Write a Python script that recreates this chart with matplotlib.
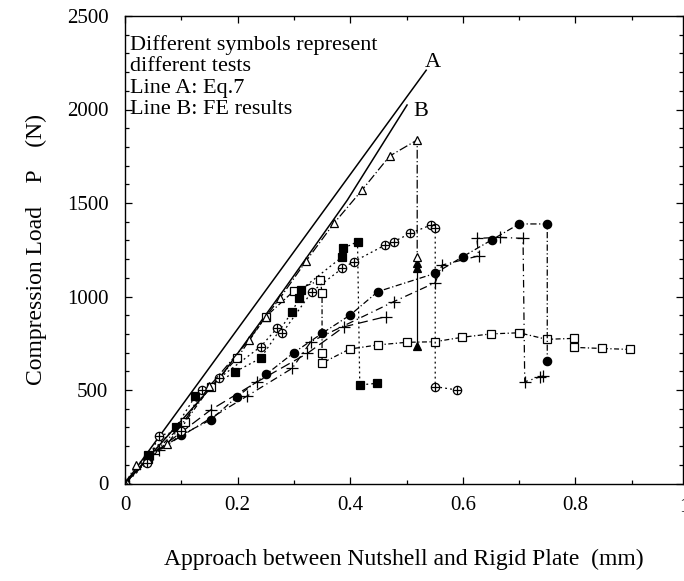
"""Compression load vs approach between nutshell and rigid plate.

Lines A (Eq.7) and B (FE results) plus the individual test curves,
one marker style per test. Saves out.png
"""
import matplotlib
matplotlib.use("Agg")
import matplotlib.pyplot as plt
from matplotlib.ticker import MultipleLocator
from matplotlib.transforms import blended_transform_factory

# line A: Eq.7, line B: FE results
line_a_x = [0.0, 0.535]
line_a_y = [0, 2210]
line_b_x = [0.0, 0.17, 0.282, 0.395, 0.501]
line_b_y = [0, 571, 1035, 1516, 2024]

# open triangles
tri_open_x = [0, 0.02, 0.075, 0.15, 0.22, 0.25, 0.275, 0.322, 0.371, 0.421, 0.47, 0.519, 0.519]
tri_open_y = [0, 100, 210, 520, 767, 892, 990, 1191, 1391, 1569, 1751, 1837, 1210]

# filled triangles (only the post-failure part is visible)
tri_fill_x = [0.519, 0.519, 0.519]
tri_fill_y = [1180, 1150, 735]

# circled plus
oplus_x = [0, 0.039, 0.06, 0.099, 0.137, 0.167, 0.241, 0.27, 0.279, 0.332, 0.386,
           0.406, 0.462, 0.477, 0.507, 0.543, 0.551, 0.551, 0.59]
oplus_y = [0, 108, 256, 283, 500, 563, 732, 830, 803, 1026, 1151,
           1186, 1275, 1293, 1338, 1382, 1365, 518, 500]

# filled squares
sq_fill_x = [0, 0.04, 0.09, 0.125, 0.196, 0.241, 0.297, 0.309, 0.312, 0.385, 0.388, 0.413, 0.417, 0.448]
sq_fill_y = [0, 150, 300, 468, 598, 670, 919, 990, 1035, 1210, 1258, 1293, 527, 536]

# filled circles
circ_x = [0, 0.04, 0.099, 0.152, 0.199, 0.251, 0.30, 0.35, 0.40, 0.449, 0.551,
          0.60, 0.651, 0.70, 0.75, 0.75]
circ_y = [0, 130, 259, 340, 464, 584, 700, 803, 901, 1026, 1124,
          1213, 1302, 1388, 1388, 657]

# plus signs, two tests
plus1_x = [0, 0.05, 0.152, 0.235, 0.324, 0.389, 0.463]
plus1_y = [0, 160, 393, 544, 696, 838, 892]
plus2_x = [0, 0.06, 0.217, 0.297, 0.33, 0.477, 0.551, 0.563, 0.628, 0.625,
           0.666, 0.707, 0.71, 0.738, 0.743]
plus2_y = [0, 180, 468, 616, 758, 972, 1074, 1168, 1217, 1311,
           1316, 1311, 544, 571, 575]

# open squares
sq_open_x = [0, 0.04, 0.107, 0.152, 0.199, 0.25, 0.30, 0.347, 0.35, 0.35, 0.35,
             0.399, 0.449, 0.50, 0.55, 0.599, 0.65, 0.70, 0.749, 0.797, 0.797, 0.848, 0.897]
sq_open_y = [0, 130, 330, 518, 670, 892, 1030, 1088, 1017, 697, 644,
             719, 741, 755, 758, 782, 800, 806, 771, 776, 728, 722, 717]

x_ticks = [0, 0.2, 0.4, 0.6, 0.8]
x_tick_labels = ["0", "0.2", "0.4", "0.6", "0.8"]
y_ticks = [0, 500, 1000, 1500, 2000, 2500]

note = "Different symbols represent\ndifferent tests\nLine A: Eq.7\nLine B: FE results"


def main():
    plt.rcParams["font.family"] = ["Liberation Serif", "DejaVu Serif"]
    plt.rcParams["font.size"] = 15
    plt.rcParams["lines.linewidth"] = 0.9

    fig = plt.figure(figsize=(6.84, 5.81), dpi=100)
    ax = fig.add_axes([125 / 684, 1 - 483.5 / 581, (683 - 125) / 684, (483.5 - 16) / 581])

    ax.plot(line_a_x, line_a_y, color="black", lw=1.1)
    ax.plot(line_b_x, line_b_y, color="black", lw=1.1)
    ax.text(0.546, 2254, "A", ha="center", va="center", fontsize=16)
    ax.text(0.526, 1990, "B", ha="center", va="center", fontsize=16)

    k = dict(color="black", ms=6, mew=0.9)
    ax.plot(sq_open_x, sq_open_y, marker="s", mfc="white", ls=(0, (4, 2, 1, 2)), **k)
    ax.plot(plus1_x, plus1_y, marker="+", ms=8, color="black", mew=0.9, ls=(0, (8, 4)))
    ax.plot(plus2_x, plus2_y, marker="+", ms=8, color="black", mew=0.9, ls=(0, (6, 3, 1, 3)))
    ax.plot(circ_x, circ_y, marker="o", ls=(0, (5, 2, 1, 2)), **k)
    ax.plot(sq_fill_x, sq_fill_y, marker="s", ls=(0, (1.5, 2.5)), **k)
    ax.plot(oplus_x, oplus_y, marker="o", mfc="white", ls=(0, (1.5, 2.5)), **k)
    ax.plot(oplus_x, oplus_y, marker="+", ls="none", color="black", ms=6, mew=0.9)
    ax.plot(tri_fill_x, tri_fill_y, marker="^", ls="-", **k)
    ax.plot(tri_open_x, tri_open_y, marker="^", mfc="white", ls=(0, (7, 2, 1, 2)), **k)

    ax.text(0.008, 2400, note, ha="left", va="top", fontsize=16, linespacing=1.18)

    ax.set_xlim(0, 558 / 563)
    ax.set_ylim(0, 2500)
    ax.set_xticks(x_ticks)
    ax.set_xticklabels(x_tick_labels)
    ax.set_yticks(y_ticks)
    ax.xaxis.set_minor_locator(MultipleLocator(0.1))
    ax.yaxis.set_minor_locator(MultipleLocator(100))
    ax.tick_params(which="both", direction="in", top=True, right=True, width=0.9)
    ax.tick_params(which="major", length=5)
    ax.tick_params(which="minor", length=3)
    ax.tick_params(axis="x", pad=9)
    ax.tick_params(axis="y", pad=12)
    # the "1" tick label sits on the right edge, cut off in the original
    tr = blended_transform_factory(ax.transData, ax.transAxes)
    ax.text(0.993, -0.03, "1", transform=tr, ha="center", va="top", clip_on=False)
    for s in ax.spines.values():
        s.set_linewidth(1.0)

    ax.set_xlabel("Approach between Nutshell and Rigid Plate  (mm)", fontsize=17, labelpad=24)
    ax.set_ylabel("Compression Load    P    (N)", fontsize=17, labelpad=14)

    fig.savefig("out.png", dpi=100)


if __name__ == "__main__":
    main()
